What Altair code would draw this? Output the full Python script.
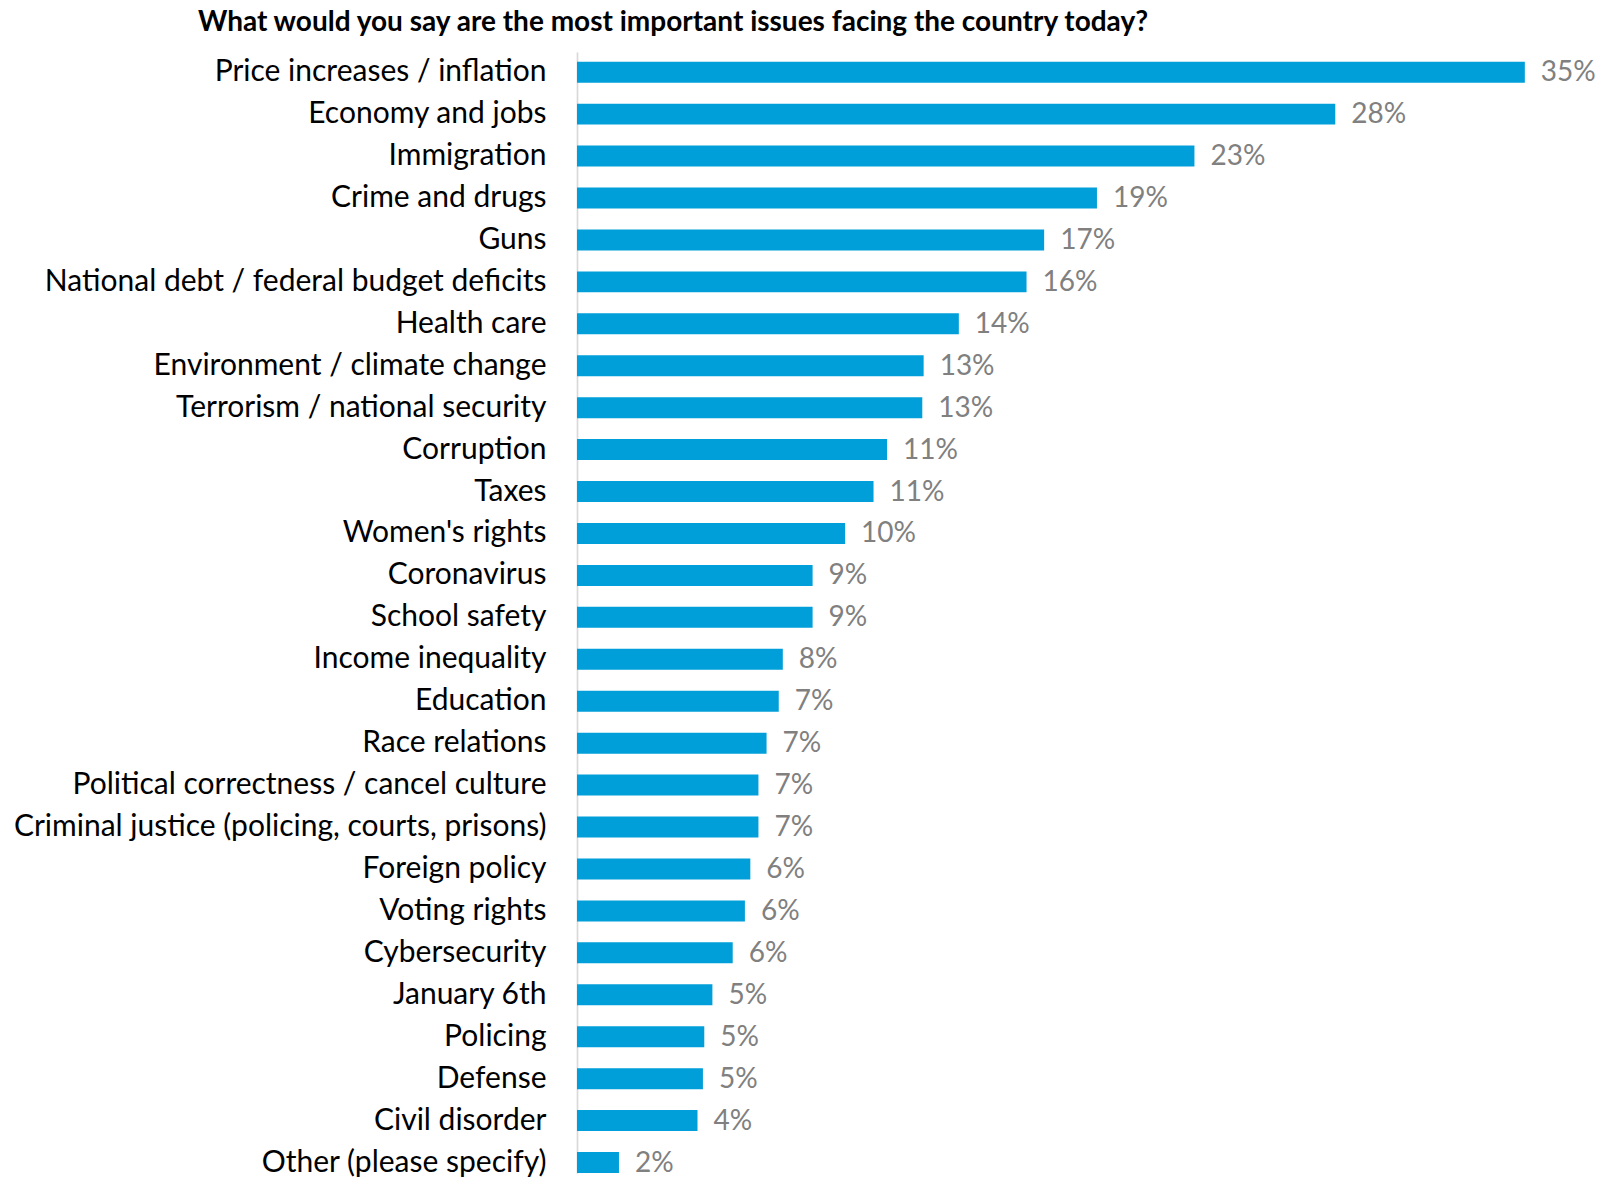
import altair as alt
import pandas as pd

issues = [
    "Price increases / inflation",
    "Economy and jobs",
    "Immigration",
    "Crime and drugs",
    "Guns",
    "National debt / federal budget deficits",
    "Health care",
    "Environment / climate change",
    "Terrorism / national security",
    "Corruption",
    "Taxes",
    "Women's rights",
    "Coronavirus",
    "School safety",
    "Income inequality",
    "Education",
    "Race relations",
    "Political correctness / cancel culture",
    "Criminal justice (policing, courts, prisons)",
    "Foreign policy",
    "Voting rights",
    "Cybersecurity",
    "January 6th",
    "Policing",
    "Defense",
    "Civil disorder",
    "Other (please specify)",
]
values = [35.0, 28.0, 22.8, 19.2, 17.25, 16.6, 14.1, 12.8, 12.75, 11.45, 10.95,
          9.9, 8.7, 8.7, 7.6, 7.45, 7.0, 6.7, 6.7, 6.4, 6.2, 5.75, 5.0, 4.7,
          4.65, 4.45, 1.55]
labels = ["35%", "28%", "23%", "19%", "17%", "16%", "14%", "13%", "13%", "11%",
          "11%", "10%", "9%", "9%", "8%", "7%", "7%", "7%", "7%", "6%", "6%",
          "6%", "5%", "5%", "5%", "4%", "2%"]

df = pd.DataFrame({"issue": issues, "value": values, "label": labels})

FONT = "Lato"
H = 1121
W = 1002

y_enc = alt.Y(
    "issue:N",
    sort=issues,
    title=None,
    scale=alt.Scale(paddingInner=0.5, paddingOuter=0.1156, align=1),
    axis=alt.Axis(
        ticks=False,
        labelFont=FONT,
        labelFontSize=30,
        labelColor="#000000",
        labelPadding=31,
        labelLimit=1000,
        domainColor="#d9d9d9",
        domainWidth=1.7,
        grid=False,
    ),
)
x_enc = alt.X("value:Q", scale=alt.Scale(domain=[0, 37], nice=False), axis=None)

bars = alt.Chart(df).mark_bar(color="#009FDA").encode(y=y_enc, x=x_enc)
text = alt.Chart(df).mark_text(
    align="left", baseline="middle", dx=16, dy=1, font=FONT, fontSize=28, color="#808080"
).encode(y=alt.Y("issue:N", sort=issues), x="value:Q", text="label:N")

chart = (
    alt.layer(bars, text)
    .properties(
        width=W,
        height=H,
        autosize=alt.AutoSizeParams(type="none"),
        padding={"left": 569, "top": 44, "right": 18, "bottom": 5},
        title=alt.TitleParams(
            "What would you say are the most important issues facing the country today?",
            font=FONT,
            fontSize=28,
            fontWeight="bold",
            color="#000000",
            anchor="middle",
            dx=-405,
            offset=15,
        ),
    )
    .configure_view(stroke=None)
)

chart.save("out.html", embed_options={"renderer": "svg", "actions": False})
